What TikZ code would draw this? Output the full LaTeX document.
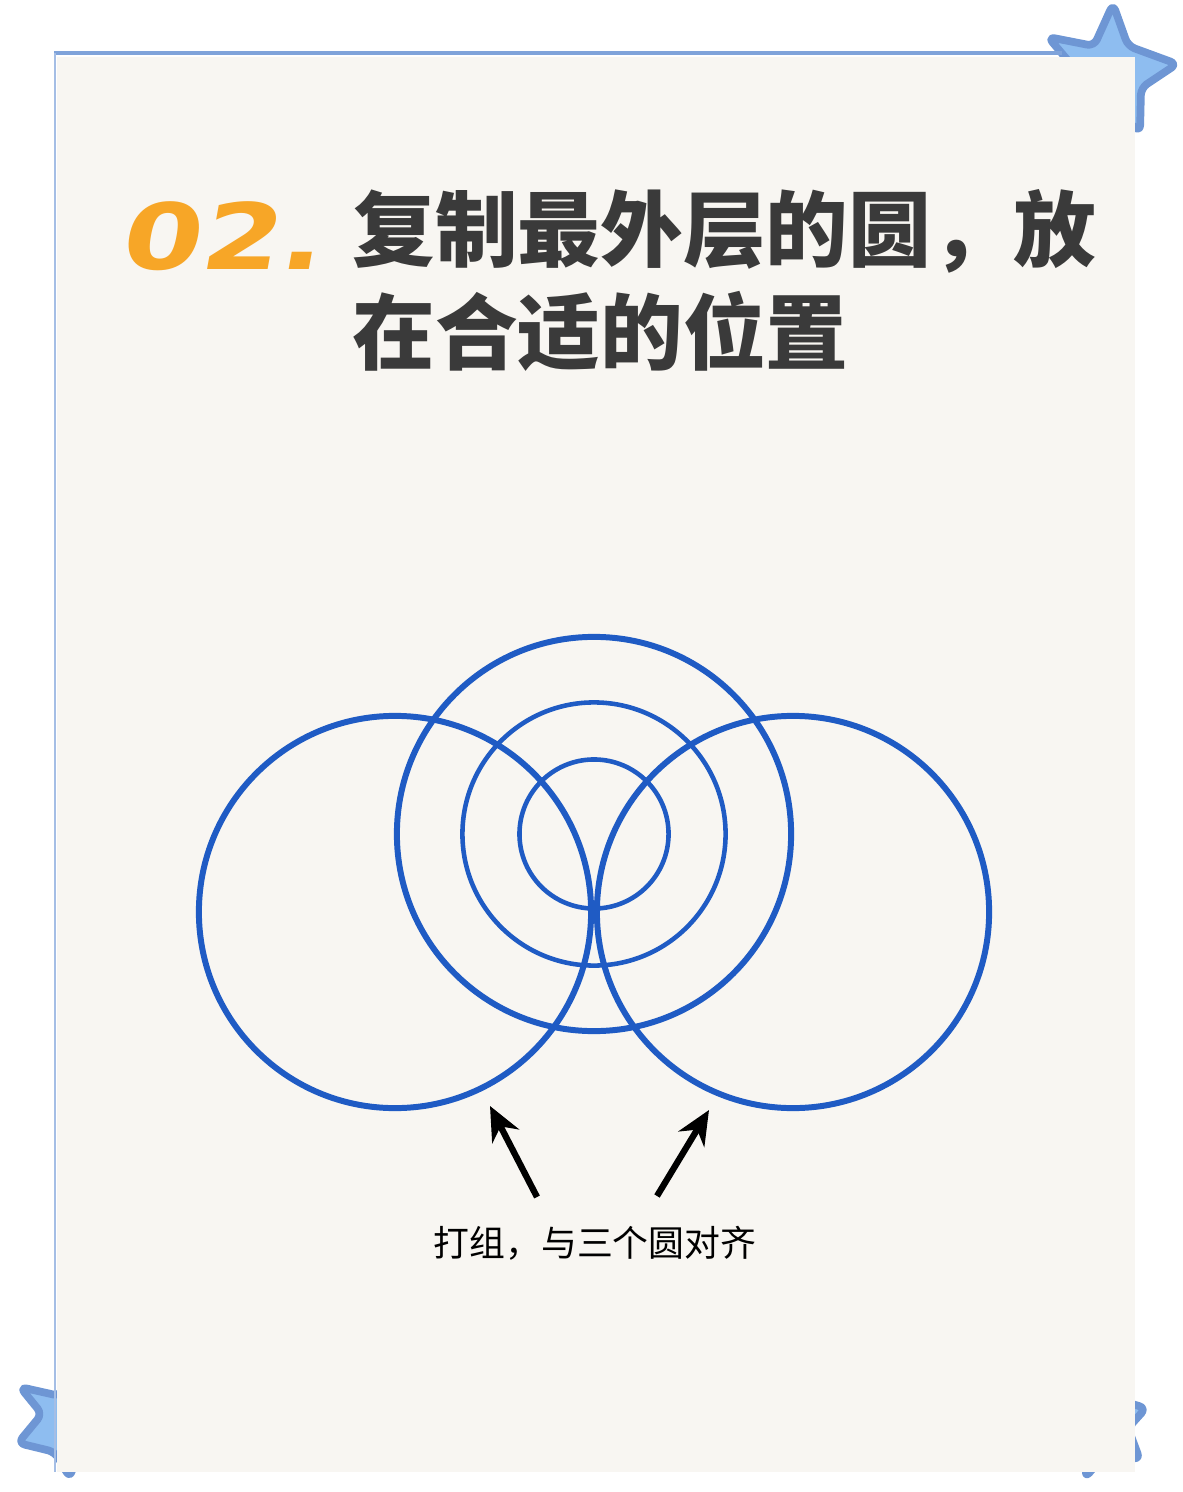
\documentclass[tikz,border=0pt]{standalone}
\usepackage{fontspec}
\usepackage{tikz}
\usetikzlibrary{positioning}
\usetikzlibrary{arrows.meta}
\newfontfamily\cjk{Noto Sans CJK SC}
\newfontfamily\numfont{DejaVu Sans}[FakeSlant=0.18,FakeStretch=1.25]
\definecolor{paper}{HTML}{F8F6F2}
\definecolor{ringblue}{HTML}{1F5BC4}
\definecolor{framblue}{HTML}{7FA3DA}
\definecolor{starfill}{HTML}{8EBDF0}
\definecolor{starline}{HTML}{6E96D4}
\definecolor{numorange}{HTML}{F7A627}
\definecolor{titlegray}{HTML}{3A3A3A}

\begin{document}
\begin{tikzpicture}[x=0.01cm,y=-0.01cm,
    ring/.style={circle,draw=ringblue,inner sep=0pt,line width=1.7pt},
    thinring/.style={ring,line width=1.3pt},
    star/.style={fill=starfill,draw=starline,line width=2.2pt,rounded corners=2pt,line join=round},
    pointer/.style={draw=black,line width=1.8pt,-{Stealth[length=0.34cm,width=0.3cm]}}]
    \useasboundingbox (0,0) rectangle (1182,1492);
    \fill[white] (0,0) rectangle (1182,1492);

    % stars behind the sheet
    \draw[star] (1113,4) -- (1128,46) -- (1177,64) -- (1141,88) -- (1140,132)
        -- (1110,106) -- (1075,125) -- (1086,82) -- (1048,37) -- (1094,46) -- cycle;
    \draw[star] (20,1387) -- (60,1396) -- (75,1365) -- (85,1405) -- (110,1420)
        -- (80,1440) -- (70,1478) -- (55,1452) -- (18,1443) -- (42,1414) -- cycle;
    \draw[star] (1146,1408) -- (1128,1428) -- (1140,1460) -- (1108,1450)
        -- (1085,1478) -- (1090,1440) -- (1070,1410) -- (1105,1405) -- (1115,1375) -- (1125,1402) -- cycle;

    % frame and sheet
    \draw[framblue,line width=1.2pt] (54,53) -- (1062,53);
    \draw[framblue!70,line width=0.6pt] (55,53) -- (55,1472);
    \fill[paper] (57,57) rectangle (1135,1472);

    % title
    \node(t1) [anchor=west,inner sep=0pt,text=titlegray] at (352,231)
        {\cjk\bfseries\fontsize{23.5pt}{23.5pt}\selectfont 复制最外层的圆，放};
    \node(t2) [anchor=west,inner sep=0pt,text=titlegray] at (352,331)
        {\cjk\bfseries\fontsize{23.5pt}{23.5pt}\selectfont 在合适的位置};
    \node(num) [left=0.3cm of t1,inner sep=0pt,text=numorange,yshift=-0.05cm]
        {\numfont\bfseries\fontsize{26pt}{26pt}\selectfont 02.};

    % circles
    \node(mid) [ring,minimum size=3.94cm] at (594,834) {};
    \node(midb) [thinring,minimum size=2.63cm] at (594,834) {};
    \node(midc) [thinring,minimum size=1.49cm] at (594,834) {};
    \node(left) [ring,minimum size=3.92cm] at (395,912) {};
    \node(right) [ring,minimum size=3.92cm] at (793,912) {};

    % arrows and note
    \node(note) at (595,1243) {\cjk\fontsize{10.2pt}{10.2pt}\selectfont 打组，与三个圆对齐};
    \coordinate(lt) at (537,1197);
    \coordinate(lh) at (490,1106);
    \coordinate(rt) at (657,1196);
    \coordinate(rh) at (709,1110);
    \draw[pointer] (lt) -- (lh);
    \draw[pointer] (rt) -- (rh);
\end{tikzpicture}
\end{document}
